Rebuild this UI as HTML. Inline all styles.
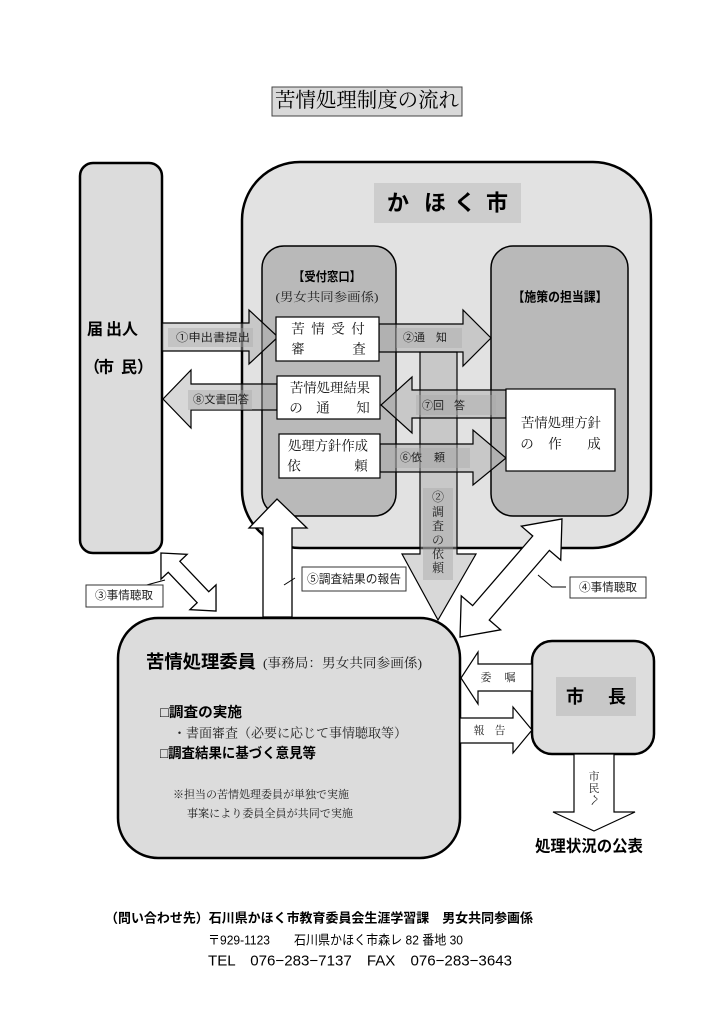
<!DOCTYPE html>
<html><head><meta charset="utf-8">
<style>
html,body{margin:0;padding:0;background:#fff;}
svg{display:block;}
.s{font-family:"Liberation Sans","Noto Sans CJK JP",sans-serif;}
.m{font-family:"Liberation Serif","Noto Serif CJK SC",serif;}
text{dominant-baseline:central;}
</style></head>
<body>
<svg width="724" height="1024" viewBox="0 0 724 1024" xmlns="http://www.w3.org/2000/svg">
<rect width="724" height="1024" fill="#fff"/>

<!-- Title -->
<rect x="272" y="87" width="190" height="29" fill="#d9d9d9" stroke="#444" stroke-width="1"/>
<text class="m" x="367" y="101" font-size="20.5" text-anchor="middle" textLength="184" lengthAdjust="spacingAndGlyphs" fill="#000">苦情処理制度の流れ</text>

<!-- 届出人 box -->
<rect x="80" y="163" width="82" height="390" rx="13" fill="#dcdcdc" stroke="#000" stroke-width="2.5"/>
<g class="s" font-weight="bold" font-size="16" fill="#000">
<text x="87" y="330">届</text>
<text x="106" y="330">出人</text>
<text x="84" y="368">（</text>
<text x="98" y="368">市</text>
<text x="121" y="368">民</text>
<text x="137" y="368">）</text>
</g>

<!-- かほく市 outer -->
<rect x="242" y="162" width="409" height="386" rx="58" fill="#e2e2e2" stroke="#000" stroke-width="2.5"/>
<rect x="374" y="183" width="147" height="40" fill="#cdcdcd"/>
<g class="s" font-weight="bold" font-size="22" text-anchor="middle" fill="#000">
<text x="398" y="203">か</text>
<text x="435" y="203">ほ</text>
<text x="465" y="203">く</text>
<text x="497" y="203">市</text>
</g>

<!-- inner boxes -->
<rect x="262" y="246" width="134" height="270" rx="22" fill="#b9b9b9" stroke="#000" stroke-width="1.5"/>
<rect x="491" y="246" width="137" height="270" rx="22" fill="#b9b9b9" stroke="#000" stroke-width="1.5"/>
<text class="s" x="327" y="277" font-size="12.5" font-weight="bold" text-anchor="middle" textLength="68" lengthAdjust="spacingAndGlyphs">【受付窓口】</text>
<text class="m" x="327" y="297" font-size="12" text-anchor="middle" textLength="103" lengthAdjust="spacingAndGlyphs" fill="#222">(男女共同参画係)</text>
<text class="s" x="560" y="297" font-size="13" font-weight="bold" text-anchor="middle" textLength="95" lengthAdjust="spacingAndGlyphs">【施策の担当課】</text>

<!-- vertical ② arrow (behind) -->
<polygon points="420,352 457,352 457,554 476,554 438,620 402,554 420,554" fill="#a8a8a8" fill-opacity="0.45" stroke="#000" stroke-width="1.2"/>
<rect x="423" y="488" width="30" height="92" fill="#a8a8a8" fill-opacity="0.45"/>
<g class="m" font-size="12" text-anchor="middle" fill="#222">
<text x="438" y="497">②</text>
<text x="438" y="512">調</text>
<text x="438" y="526">査</text>
<text x="438" y="540">の</text>
<text x="438" y="554">依</text>
<text x="438" y="568">頼</text>
</g>

<!-- horizontal arrows -->
<g fill="#a8a8a8" fill-opacity="0.45" stroke="#000" stroke-width="1.2">
<polygon points="162,323 249,323 249,310 278,337 249,364 249,351 162,351"/>
<polygon points="379,324 463,324 463,310 491,338 463,366 463,352 379,352"/>
<polygon points="506,390 412,390 412,377 381,405 412,433 412,418 506,418"/>
<polygon points="380,444 473,444 473,430 506,458 473,485 473,472 380,472"/>
<polygon points="277,384 191,384 191,370 163,399 191,428 191,410 277,410"/>
</g>
<g fill="#a8a8a8" fill-opacity="0.4">
<rect x="168" y="328" width="85" height="19"/>
<rect x="396" y="328" width="66" height="20"/>
<rect x="416" y="395" width="80" height="20"/>
<rect x="394" y="448" width="76" height="20"/>
<rect x="188" y="390" width="64" height="20"/>
</g>
<g class="s" font-size="11" fill="#222">
<text x="176" y="338" textLength="74" lengthAdjust="spacingAndGlyphs">①申出書提出</text>
<text x="403" y="338">②通</text>
<text x="436" y="338">知</text>
<text x="422" y="406">⑦回</text>
<text x="454" y="406">答</text>
<text x="400" y="458">⑥依</text>
<text x="434" y="458">頼</text>
<text x="193" y="400" textLength="56" lengthAdjust="spacingAndGlyphs">⑧文書回答</text>
</g>

<!-- white boxes -->
<g fill="#fff" stroke="#000" stroke-width="1.2">
<rect x="276" y="317" width="103" height="44"/>
<rect x="277" y="376" width="103" height="43"/>
<rect x="279" y="434" width="101" height="44"/>
<rect x="506" y="389" width="109" height="82"/>
</g>
<g class="m" font-size="13.5" text-anchor="middle" fill="#111">
<text x="298" y="329">苦</text><text x="318" y="329">情</text><text x="338" y="329">受</text><text x="358" y="329">付</text>
<text x="298" y="349">審</text><text x="359" y="349">査</text>
<text x="330" y="388" textLength="80" lengthAdjust="spacingAndGlyphs">苦情処理結果</text>
<text x="296" y="408">の</text><text x="323" y="408">通</text><text x="363" y="408">知</text>
<text x="328" y="446" textLength="80" lengthAdjust="spacingAndGlyphs">処理方針作成</text>
<text x="294" y="466">依</text><text x="361" y="466">頼</text>
<text x="561" y="423" textLength="80" lengthAdjust="spacingAndGlyphs">苦情処理方針</text>
<text x="527" y="444">の</text><text x="555" y="444">作</text><text x="594" y="444">成</text>
</g>

<!-- ⑤ up arrow -->
<polygon points="263,617 263,528 249,528 277,499 307,528 292,528 292,617" fill="#fff" stroke="#000" stroke-width="1.3"/>
<line x1="284" y1="585" x2="295" y2="578" stroke="#000" stroke-width="1"/>
<rect x="302" y="567" width="104" height="24" fill="#fff" stroke="#333" stroke-width="1"/>
<text class="s" x="354" y="579" font-size="12" text-anchor="middle" textLength="94" lengthAdjust="spacingAndGlyphs" fill="#222">⑤調査結果の報告</text>

<!-- ③ double arrow -->
<polygon transform="translate(188.5,582) rotate(46.5)" points="-40,0 -21,-18 -21,-8 21,-8 21,-18 40,0 21,18 21,8 -21,8 -21,18" fill="#fff" stroke="#000" stroke-width="1.3"/>
<line x1="143" y1="586" x2="165" y2="580" stroke="#000" stroke-width="1"/>
<rect x="86" y="585" width="77" height="22" fill="#fff" stroke="#333" stroke-width="1"/>
<text class="s" x="124" y="596" font-size="11.5" text-anchor="middle" textLength="58" lengthAdjust="spacingAndGlyphs" fill="#222">③事情聴取</text>

<!-- ④ double arrow -->
<polygon transform="translate(511,578) rotate(130.8)" points="-78,0 -46,-26 -46,-11 46,-11 46,-26 78,0 46,26 46,11 -46,11 -46,26" fill="#fff" stroke="#000" stroke-width="1.3"/>
<polyline points="538,575 552,587 566,587" fill="none" stroke="#000" stroke-width="1"/>
<rect x="570" y="577" width="76" height="21" fill="#fff" stroke="#333" stroke-width="1"/>
<text class="s" x="608" y="588" font-size="11.5" text-anchor="middle" textLength="58" lengthAdjust="spacingAndGlyphs" fill="#222">④事情聴取</text>

<!-- 委員 box -->
<rect x="118" y="618" width="342" height="240" rx="40" fill="#dcdcdc" stroke="#000" stroke-width="2.5"/>
<text class="s" x="146" y="662" font-size="18" font-weight="bold" textLength="110" lengthAdjust="spacingAndGlyphs">苦情処理委員</text>
<text class="m" x="263" y="663" font-size="13" textLength="159" lengthAdjust="spacingAndGlyphs" fill="#222">(事務局：男女共同参画係)</text>
<text class="s" x="160" y="712" font-size="14" font-weight="bold" textLength="82" lengthAdjust="spacingAndGlyphs">□調査の実施</text>
<text class="m" x="173" y="733" font-size="13" textLength="234" lengthAdjust="spacingAndGlyphs" fill="#222">・書面審査（必要に応じて事情聴取等）</text>
<text class="s" x="160" y="753" font-size="14" font-weight="bold" textLength="156" lengthAdjust="spacingAndGlyphs">□調査結果に基づく意見等</text>
<text class="m" x="173" y="795" font-size="11" textLength="176" lengthAdjust="spacingAndGlyphs" fill="#222">※担当の苦情処理委員が単独で実施</text>
<text class="m" x="187" y="814" font-size="11" textLength="166" lengthAdjust="spacingAndGlyphs" fill="#222">事案により委員全員が共同で実施</text>

<!-- 市長 box -->
<rect x="532" y="641" width="122" height="113" rx="20" fill="#dddddd" stroke="#000" stroke-width="2.5"/>
<rect x="556" y="677" width="80" height="39" fill="#c8c8c8"/>
<text class="s" x="575" y="697" font-size="18" font-weight="bold" text-anchor="middle">市</text>
<text class="s" x="617" y="697" font-size="18" font-weight="bold" text-anchor="middle">長</text>

<!-- 委嘱 / 報告 arrows -->
<polygon points="532,664 478,664 478,652 461,678 478,704 478,691 532,691" fill="#fff" stroke="#000" stroke-width="1.2"/>
<polygon points="460,718 513,718 513,707 532,730 513,753 513,743 460,743" fill="#fff" stroke="#000" stroke-width="1.2"/>
<g class="m" font-size="11" text-anchor="middle" fill="#222">
<text x="486" y="678">委</text><text x="510" y="678">嘱</text>
<text x="479" y="731">報</text><text x="500" y="731">告</text>
</g>

<!-- 市民へ arrow -->
<polygon points="574,754 614,754 614,812 635,812 594,831 553,812 574,812" fill="#fff" stroke="#000" stroke-width="1.2"/>
<g class="m" font-size="11" text-anchor="middle" fill="#222">
<text x="594" y="777">市</text>
<text x="594" y="789">民</text>
<text x="594" y="800" transform="rotate(90 594 800)">へ</text>
</g>
<text class="s" x="589" y="847" font-size="16" font-weight="bold" text-anchor="middle" textLength="108" lengthAdjust="spacingAndGlyphs">処理状況の公表</text>

<!-- footer -->
<text class="s" x="105" y="918" font-size="13" font-weight="bold" textLength="428" lengthAdjust="spacingAndGlyphs">（問い合わせ先）石川県かほく市教育委員会生涯学習課　男女共同参画係</text>
<text class="s" x="208" y="940" font-size="13" textLength="255" lengthAdjust="spacingAndGlyphs">〒929-1123　　石川県かほく市森レ 82 番地 30</text>
<text class="s" x="208" y="961" font-size="15" textLength="304" lengthAdjust="spacingAndGlyphs">TEL　076−283−7137　FAX　076−283−3643</text>
</svg>
</body></html>
